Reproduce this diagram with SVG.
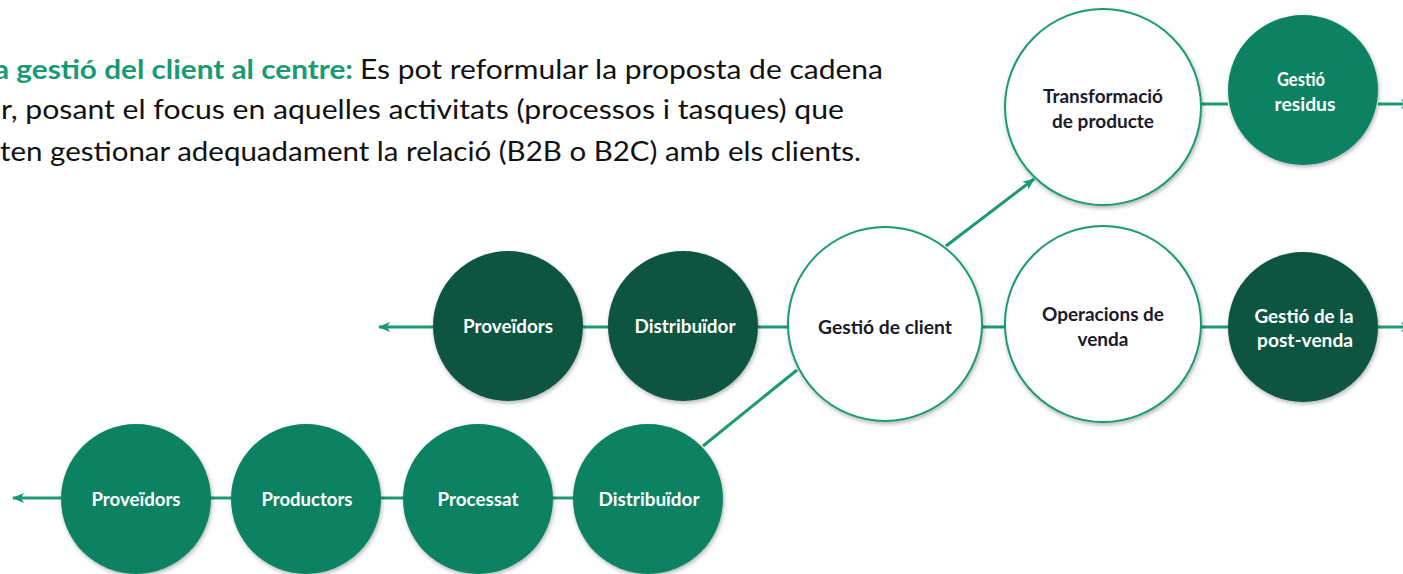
<svg xmlns="http://www.w3.org/2000/svg" width="1403" height="574" viewBox="0 0 1403 574">
<style>
.hd{font-family:Lato,"Open Sans","Liberation Sans",sans-serif;font-size:27px;fill:#111}
.hg{fill:#1a9a74;font-weight:bold}
.lbl{font-family:Lato,"Open Sans","Liberation Sans",sans-serif;font-size:18px;font-weight:bold;text-anchor:middle}
.w{fill:#ffffff}
.k{fill:#1a1a2a}
.mid{fill:#0f8264;filter:url(#sh)}
.dark{fill:#0a5540;filter:url(#sh)}
.white{fill:#ffffff;stroke:#1a9a74;stroke-width:2;filter:url(#sh)}
.cn{stroke:#1a9a74;stroke-width:3;fill:none}
</style>
<defs>
<filter id="sh" x="-20%" y="-20%" width="140%" height="150%">
<feDropShadow dx="1" dy="2" stdDeviation="2" flood-color="#000" flood-opacity="0.3"/>
</filter>
<marker id="ar" viewBox="0 0 12 10" refX="11" refY="5" markerWidth="12" markerHeight="10" markerUnits="userSpaceOnUse" orient="auto">
<path d="M0,0 L12,5 L0,10 L3,5 Z" fill="#1a9a74"/>
</marker>
</defs>

<g id="heading">
<text class="hd hg" x="-6" y="79" textLength="359" lengthAdjust="spacingAndGlyphs">a gestió del client al centre:</text>
<text class="hd" x="360" y="79" textLength="523" lengthAdjust="spacingAndGlyphs">Es pot reformular la proposta de cadena</text>
<text class="hd" x="1" y="119" textLength="843" lengthAdjust="spacingAndGlyphs">r, posant el focus en aquelles activitats (processos i tasques) que</text>
<text class="hd" x="0" y="161" textLength="861" lengthAdjust="spacingAndGlyphs">ten gestionar adequadament  la relació (B2B o B2C) amb els clients.</text>
</g>

<g id="connectors">
<line class="cn" x1="433" y1="327" x2="379" y2="327" marker-end="url(#ar)"/>
<line class="cn" x1="583" y1="327" x2="608" y2="327"/>
<line class="cn" x1="758" y1="327" x2="788" y2="327"/>
<line class="cn" x1="982" y1="327" x2="1005" y2="327"/>
<line class="cn" x1="1201" y1="327" x2="1228" y2="327"/>
<line class="cn" x1="1378" y1="327" x2="1412" y2="327" marker-end="url(#ar)"/>
<line class="cn" x1="1201" y1="104" x2="1228" y2="104"/>
<line class="cn" x1="1378" y1="104" x2="1412" y2="104" marker-end="url(#ar)"/>
<line class="cn" x1="946" y1="246" x2="1034" y2="179" marker-end="url(#ar)"/>
<line class="cn" x1="703" y1="446" x2="797" y2="370"/>
<line class="cn" x1="61" y1="498" x2="13" y2="498" marker-end="url(#ar)"/>
<line class="cn" x1="210" y1="498" x2="231" y2="498"/>
<line class="cn" x1="381" y1="498" x2="403" y2="498"/>
<line class="cn" x1="553" y1="498" x2="574" y2="498"/>
</g>

<g id="n-proveidors-top"><circle class="dark" cx="508" cy="326" r="75"/><text class="lbl w" x="508" y="333" textLength="90" lengthAdjust="spacingAndGlyphs">Proveïdors</text></g>
<g id="n-distribuidor-top"><circle class="dark" cx="683" cy="326" r="75"/><text class="lbl w" x="685" y="333" textLength="101" lengthAdjust="spacingAndGlyphs">Distribuïdor</text></g>
<g id="n-gestio-client"><circle class="white" cx="885" cy="324" r="97"/><text class="lbl k" x="885" y="334" textLength="134" lengthAdjust="spacingAndGlyphs">Gestió de client</text></g>
<g id="n-transformacio"><circle class="white" cx="1103" cy="107" r="98"/><text class="lbl k" x="1103" y="103" textLength="120" lengthAdjust="spacingAndGlyphs">Transformació</text><text class="lbl k" x="1103" y="128" textLength="102" lengthAdjust="spacingAndGlyphs">de producte</text></g>
<g id="n-residus"><circle class="mid" cx="1303" cy="90" r="75"/><text class="lbl w" x="1301" y="86" textLength="48" lengthAdjust="spacingAndGlyphs">Gestió</text><text class="lbl w" x="1305" y="111" textLength="61" lengthAdjust="spacingAndGlyphs">residus</text></g>
<g id="n-operacions"><circle class="white" cx="1103" cy="324" r="98"/><text class="lbl k" x="1103" y="321" textLength="122" lengthAdjust="spacingAndGlyphs">Operacions de</text><text class="lbl k" x="1103" y="346" textLength="51" lengthAdjust="spacingAndGlyphs">venda</text></g>
<g id="n-postvenda"><circle class="dark" cx="1303" cy="327" r="75"/><text class="lbl w" x="1304" y="323" textLength="99" lengthAdjust="spacingAndGlyphs">Gestió de la</text><text class="lbl w" x="1305" y="347" textLength="96" lengthAdjust="spacingAndGlyphs">post-venda</text></g>

<g id="n-proveidors-bot"><circle class="mid" cx="136" cy="499" r="75"/><text class="lbl w" x="136" y="506" textLength="89" lengthAdjust="spacingAndGlyphs">Proveïdors</text></g>
<g id="n-productors"><circle class="mid" cx="306" cy="499" r="75"/><text class="lbl w" x="307" y="506" textLength="91" lengthAdjust="spacingAndGlyphs">Productors</text></g>
<g id="n-processat"><circle class="mid" cx="478" cy="499" r="75"/><text class="lbl w" x="478" y="506" textLength="81" lengthAdjust="spacingAndGlyphs">Processat</text></g>
<g id="n-distribuidor-bot"><circle class="mid" cx="648" cy="499" r="75"/><text class="lbl w" x="649" y="506" textLength="101" lengthAdjust="spacingAndGlyphs">Distribuïdor</text></g>
</svg>
